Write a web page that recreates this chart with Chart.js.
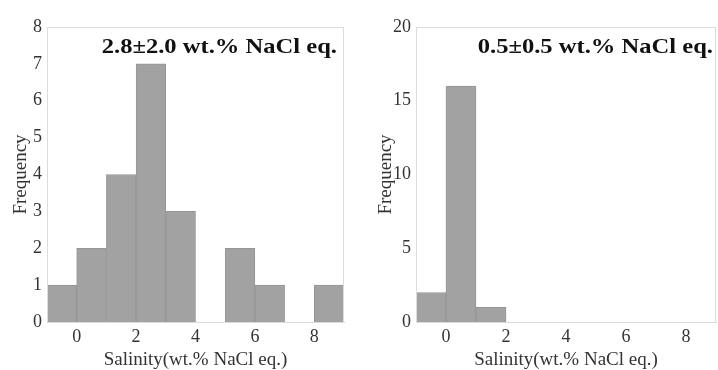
<!DOCTYPE html>
<html>
<head>
<meta charset="utf-8">
<script src="https://cdn.jsdelivr.net/npm/chart.js@4/dist/chart.umd.min.js"></script>
<style>
  html, body { margin: 0; padding: 0; background: #fff; }
  #wrap { position: relative; width: 718px; height: 370px; }
  .box { position: absolute; top: 0; width: 359px; height: 370px; }
</style>
</head>
<body>
<div id="wrap">
  <div class="box" style="left:0"><canvas id="chartA"></canvas></div>
  <div class="box" style="left:359px"><canvas id="chartB"></canvas></div>
</div>
<script>
// bin centres (bins are 1 wt.% wide, from -1 to 9)
var binCenters = [-0.5, 0.5, 1.5, 2.5, 3.5, 4.5, 5.5, 6.5, 7.5, 8.5]
var countsA = [1, 2, 4, 7, 3, 0, 2, 1, 0, 1]
var countsB = [2, 16, 1, 0, 0, 0, 0, 0, 0, 0]
var xTicks = [0, 2, 4, 6, 8]
var yTicksA = [0, 1, 2, 3, 4, 5, 6, 7, 8]
var yTicksB = [0, 5, 10, 15, 20]
var labelA = '2.8\u00B12.0 wt.% NaCl eq.'
var labelB = '0.5\u00B10.5 wt.% NaCl eq.'

var serif = '"Liberation Serif", "DejaVu Serif", serif'

// light frame round the plot area plus the stats text in the top right corner
var framePlugin = {
    id: 'frame',
    afterDatasetsDraw: function(chart, args, opts) {
        var a = chart.chartArea
        var ctx = chart.ctx
        ctx.save()
        ctx.strokeStyle = '#dcdcdc'
        ctx.lineWidth = 1
        ctx.strokeRect(a.left + 0.5, a.top + 0.5, a.right - a.left - 1, a.bottom - a.top)
        // the original lettering is a bit wider than Liberation Serif
        ctx.translate(a.right - opts.gap, a.top + 26)
        ctx.scale(1.17, 1)
        ctx.fillStyle = '#111'
        ctx.font = 'bold 21px ' + serif
        ctx.textAlign = 'right'
        ctx.textBaseline = 'alphabetic'
        ctx.fillText(opts.text, 0, 0)
        ctx.restore()
    }
}

function makeChart(id, counts, yTicks, yMax, label, yWidth, padRight, titlePad, gap) {
    var ctx = document.getElementById(id).getContext('2d')
    return new Chart(ctx, {
        type: 'bar',
        data: {
            datasets: [{
                data: binCenters.map(function(c, i) { return { x: c, y: counts[i] } }),
                backgroundColor: '#a2a2a2',
                borderColor: '#959595',
                borderWidth: 1,
                barPercentage: 1,
                categoryPercentage: 1
            }]
        },
        options: {
            responsive: false,
            animation: false,
            devicePixelRatio: 1,
            layout: { padding: { top: 27, right: padRight, bottom: 0, left: 0 } },
            plugins: {
                legend: { display: false },
                tooltip: { enabled: false },
                frame: { text: label, gap: gap }
            },
            scales: {
                x: {
                    type: 'linear',
                    offset: false,
                    min: -1,
                    max: 9,
                    grid: { display: false, drawTicks: false },
                    border: { color: '#dcdcdc' },
                    afterBuildTicks: function(scale) {
                        scale.ticks = xTicks.map(function(v) { return { value: v } })
                    },
                    ticks: { color: '#333', padding: 6, font: { family: serif, size: 18, lineHeight: 1 } },
                    title: {
                        display: true,
                        text: 'Salinity(wt.% NaCl eq.)',
                        color: '#333',
                        padding: { top: -1, bottom: 0 },
                        font: { family: serif, size: 19, lineHeight: 1 }
                    }
                },
                y: {
                    min: 0,
                    max: yMax,
                    grid: { display: false, drawTicks: false },
                    border: { color: '#dcdcdc' },
                    afterBuildTicks: function(scale) {
                        scale.ticks = yTicks.map(function(v) { return { value: v } })
                    },
                    afterFit: function(scale) { scale.width = yWidth },
                    ticks: { color: '#333', padding: 5, font: { family: serif, size: 18 } },
                    title: {
                        display: true,
                        text: 'Frequency',
                        color: '#333',
                        padding: { top: titlePad, bottom: 0 },
                        font: { family: serif, size: 19 }
                    }
                }
            }
        },
        plugins: [framePlugin]
    })
}

var cA = document.getElementById('chartA')
var cB = document.getElementById('chartB')
cA.width = 359; cA.height = 370
cB.width = 359; cB.height = 370

makeChart('chartA', countsA, yTicksA, 8, labelA, 47, 15, 10, 7)
makeChart('chartB', countsB, yTicksB, 20, labelB, 57, 2, 16, 3)
</script>
</body>
</html>
